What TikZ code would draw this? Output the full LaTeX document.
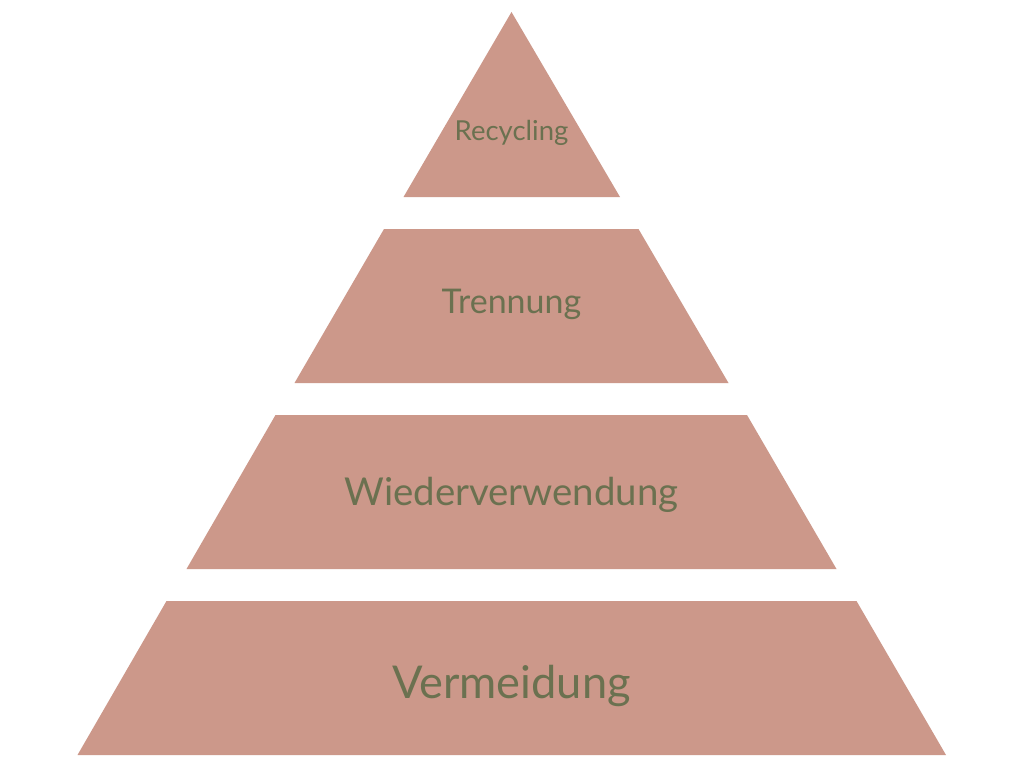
\documentclass[tikz,border=0pt]{standalone}
\usepackage{fontspec}
\setmainfont{Lato}
\definecolor{tierfill}{HTML}{CC988A}
\definecolor{tiertext}{HTML}{6B7150}
\tikzset{
  tier/.style={fill=tierfill, draw=none},
  tierlabel/.style={text=tiertext, anchor=base, inner sep=0pt},
}
\begin{document}
\begin{tikzpicture}[x=1pt,y=-1pt]
\useasboundingbox (0,0) rectangle (1024,768);
\fill[white] (0,0) rectangle (1024,768);
% top triangle
\fill[tier] (511.5,12) -- (620,197) -- (403.5,197) -- cycle;
% tier 2
\fill[tier] (384,229) -- (638.5,229) -- (728.5,383) -- (294.5,383) -- cycle;
% tier 3
\fill[tier] (275.5,415) -- (747,415) -- (836.5,569) -- (186.5,569) -- cycle;
% tier 4
\fill[tier] (166.5,601) -- (856.5,601) -- (946,755) -- (77.5,755) -- cycle;
\node[tierlabel, font=\fontsize{27.5}{27.5}\selectfont] (l1) at (511.5,140) {Recycling};
\node[tierlabel, font=\fontsize{34}{34}\selectfont] (l2) at (511.5,313) {Trennung};
\node[tierlabel, font=\fontsize{38.4}{38.4}\selectfont] (l3) at (511.5,505) {Wiederverwendung};
\node[tierlabel, font=\fontsize{45.2}{45.2}\selectfont] (l4) at (511.5,698) {Vermeidung};
\end{tikzpicture}
\end{document}
